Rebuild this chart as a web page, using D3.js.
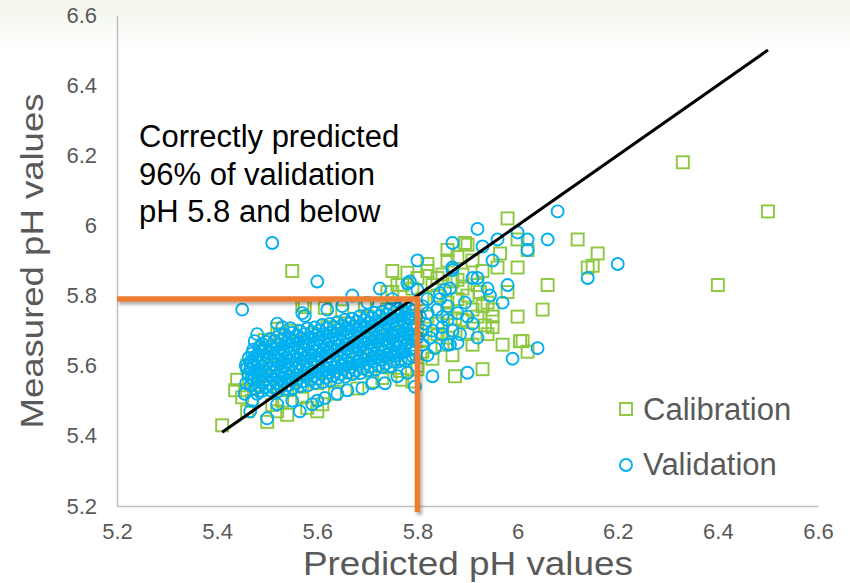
<!DOCTYPE html>
<html>
<head>
<meta http-equiv="Content-type" content="text/html; charset=utf-8"/>
<title>Measured vs predicted pH</title>
<script src="https://d3js.org/d3.v7.min.js"></script>
<style>
  body { margin: 0; background: #fff; }
  svg { display: block; font-family: "Liberation Sans", Arial, sans-serif; }
</style>
</head>
<body>
<svg width="850" height="583"></svg>
<script>
// ### Data ###
const xTicks = [5.2, 5.4, 5.6, 5.8, 6.0, 6.2, 6.4, 6.6];
const xTickLabels = ["5.2", "5.4", "5.6", "5.8", "6", "6.2", "6.4", "6.6"];
const yTicks = [5.2, 5.4, 5.6, 5.8, 6.0, 6.2, 6.4, 6.6];
const yTickLabels = ["5.2", "5.4", "5.6", "5.8", "6", "6.2", "6.4", "6.6"];

const oneToOne = [5.41, 6.5];          // 1:1 line start / end
const cutoffX = 5.8, cutoffY = 5.79;    // orange threshold lines
const cutoffBottom = 5.183;

const seriesNames = ["Calibration", "Validation"];
const noteLines = ["Correctly predicted", "96% of validation", "pH 5.8 and below"];

// calibration (green squares)
const calibration = [
  [6.33,6.18],[6.50,6.04],[6.40,5.83],[6.12,5.96],[6.16,5.92],[6.14,5.88],[6.15,5.885],[5.55,5.87],[5.41,5.43],
  [5.98,6.02],[6.06,5.83],[6.05,5.76],[6.00,5.74],[6.01,5.67],[6.02,5.64],[5.97,5.66],[5.95,5.71],[5.93,5.59],
  [5.875,5.57],[6.02,5.93],[6.00,5.96],
  [5.86,5.93],[5.90,5.945],[5.895,5.95],[5.965,5.92],[5.91,5.90],[5.82,5.89],[5.75,5.87],[5.78,5.865],[5.84,5.85],
  [5.88,5.845],[5.98,5.81],[5.96,5.88],[6.00,5.88],[5.925,5.81],[5.94,5.78],[5.86,5.78],[5.95,5.76],[5.91,5.76],
  [5.875,5.735],[5.86,5.68],[5.81,5.67],[5.84,5.69],[5.935,5.715],[5.77,5.56],[5.81,5.64],[5.745,5.595],[6.005,5.67],
  [5.83,5.83],[5.85,5.86],[5.87,5.84],[5.89,5.82],[5.90,5.80],[5.92,5.83],[5.88,5.79],[5.86,5.75],[5.84,5.72],
  [5.82,5.74],[5.89,5.73],[5.92,5.74],[5.93,5.77],[5.87,5.70],[5.90,5.69],[5.85,5.66],[5.83,5.62],[5.80,5.60],
  [5.87,5.63],[5.91,5.66],[5.94,5.69],[5.95,5.74],[5.82,5.87],[5.86,5.90],[5.88,5.91],[5.93,5.87],[5.80,5.85],
  [5.79,5.82],[5.76,5.83],[5.74,5.81],[5.81,5.79],[5.84,5.80],[5.89,5.86],
  [5.44,5.56],[5.436,5.53],[5.456,5.53],[5.48,5.545],[5.47,5.58],[5.49,5.62],[5.495,5.673],[5.525,5.69],[5.52,5.705],
  [5.55,5.70],[5.575,5.767],[5.57,5.773],[5.615,5.765],[5.65,5.755],[5.695,5.77],[5.75,5.81],[5.77,5.83],[5.51,5.488],
  [5.53,5.50],[5.58,5.48],[5.61,5.49],[5.57,5.51],[5.635,5.52],[5.68,5.535],[5.71,5.555],[5.73,5.565],[5.765,5.585],
  [5.80,5.59],[5.79,5.555],[5.50,5.44],[5.46,5.47],[5.47,5.50],[5.45,5.51],[5.54,5.46],[5.52,5.47],[5.60,5.47],
  [5.47,5.56],[5.49,5.57],[5.50,5.54],[5.52,5.55],[5.51,5.60],[5.53,5.58],[5.54,5.53],[5.55,5.56],[5.56,5.60],
  [5.57,5.54],[5.58,5.58],[5.60,5.55],[5.60,5.62],[5.62,5.58],[5.63,5.64],[5.64,5.56],[5.65,5.60],[5.66,5.66],
  [5.67,5.58],[5.68,5.62],[5.69,5.68],[5.70,5.60],[5.71,5.65],[5.72,5.70],[5.73,5.62],[5.74,5.67],[5.75,5.72],
  [5.76,5.63],[5.77,5.69],[5.78,5.74],[5.79,5.65],[5.80,5.71],[5.53,5.64],[5.56,5.67],[5.59,5.69],[5.62,5.71],
  [5.66,5.72],[5.70,5.74],[5.74,5.76],[5.50,5.63],[5.46,5.60]
];

// validation (blue circles): scattered points
const validation = [
  [5.51,5.95],[5.60,5.84],[5.45,5.76],[6.08,6.04],[6.20,5.89],[6.14,5.85],[6.06,5.96],[6.00,5.98],[6.02,5.96],
  [6.02,5.93],[6.04,5.65],[5.99,5.62],[5.90,5.58],[5.83,5.57],[5.795,5.54],[5.92,5.99],[5.87,5.95],[5.96,5.96],
  [5.93,5.94],[5.80,5.90],[5.95,5.90],[5.98,5.83],[5.97,5.78],[5.92,5.68],[5.885,5.69],[5.865,5.66],[5.91,5.72],
  [5.90,5.74],[5.895,5.78],[5.94,5.82],[5.945,5.80],[5.91,5.85],[5.92,5.85],[5.87,5.88],[5.785,5.84],[5.87,5.873],
  [5.88,5.665],[5.86,5.66],[5.735,5.55],[5.80,5.816],[5.855,5.816],[5.865,5.82],[5.845,5.807],[5.85,5.74],
  [5.85,5.71],[5.85,5.69],
  [5.81,5.77],[5.82,5.75],[5.815,5.72],[5.83,5.70],[5.825,5.68],[5.81,5.66],[5.84,5.76],[5.86,5.73],[5.835,5.65],
  [5.82,5.63],[5.87,5.70],[5.845,5.79],[5.86,5.77],[5.88,5.75],[5.805,5.74],[5.81,5.70],[5.80,5.68],[5.82,5.79],
  [5.48,5.69],[5.486,5.655],[5.466,5.61],[5.46,5.593],[5.466,5.47],[5.50,5.45],[5.546,5.707],[5.575,5.742],
  [5.57,5.75],[5.67,5.80],[5.725,5.82],[5.78,5.835],[5.565,5.47],[5.615,5.508],[5.60,5.50],[5.69,5.536],[5.64,5.52],
  [5.59,5.49],[5.475,5.67],[5.52,5.72],[5.53,5.71],[5.62,5.76],[5.65,5.77],[5.70,5.78],[5.75,5.79],[5.52,5.49],
  [5.55,5.50],[5.66,5.53],[5.71,5.55],[5.76,5.57],[5.78,5.58],[5.455,5.52],[5.47,5.50],[5.48,5.52]
];

// validation: the dense core of the cloud
const validationCore = [
  [5.458,5.55],[5.462,5.575],[5.457,5.60],[5.463,5.622],
  [5.476,5.535],[5.473,5.56],[5.477,5.582],[5.474,5.605],[5.478,5.628],[5.472,5.646],
  [5.489,5.528],[5.492,5.552],[5.488,5.574],[5.491,5.597],[5.493,5.62],[5.487,5.641],[5.49,5.662],
  [5.506,5.53],[5.503,5.549],[5.507,5.572],[5.504,5.59],[5.508,5.613],[5.502,5.636],[5.506,5.655],[5.505,5.676],
  [5.521,5.527],[5.518,5.551],[5.523,5.571],[5.519,5.594],[5.522,5.613],[5.517,5.637],[5.521,5.66],[5.52,5.681],
  [5.536,5.534],[5.533,5.556],[5.537,5.579],[5.534,5.601],[5.538,5.621],[5.532,5.646],[5.536,5.664],[5.535,5.689],
  [5.551,5.536],[5.548,5.559],[5.552,5.581],[5.549,5.604],[5.553,5.626],[5.547,5.649],[5.551,5.671],[5.55,5.694],
  [5.566,5.541],[5.563,5.564],[5.567,5.586],[5.564,5.606],[5.568,5.631],[5.562,5.651],[5.566,5.676],[5.565,5.699],
  [5.581,5.544],[5.578,5.571],[5.582,5.589],[5.579,5.613],[5.583,5.635],[5.577,5.661],[5.581,5.679],[5.58,5.706],
  [5.596,5.551],[5.593,5.571],[5.597,5.596],[5.594,5.617],[5.598,5.641],[5.592,5.661],[5.596,5.686],[5.595,5.709],
  [5.611,5.553],[5.608,5.576],[5.612,5.599],[5.609,5.623],[5.613,5.644],[5.607,5.668],[5.611,5.689],[5.61,5.716],
  [5.626,5.557],[5.623,5.581],[5.627,5.604],[5.624,5.628],[5.628,5.649],[5.622,5.673],[5.626,5.694],[5.625,5.719],
  [5.641,5.566],[5.638,5.584],[5.642,5.609],[5.639,5.631],[5.643,5.656],[5.637,5.677],[5.641,5.701],[5.64,5.724],
  [5.656,5.569],[5.653,5.591],[5.657,5.614],[5.654,5.639],[5.658,5.659],[5.652,5.683],[5.656,5.704],[5.655,5.731],
  [5.671,5.576],[5.668,5.596],[5.672,5.621],[5.669,5.641],[5.673,5.666],[5.667,5.687],[5.671,5.711],[5.67,5.734],
  [5.686,5.579],[5.683,5.603],[5.687,5.624],[5.684,5.649],[5.688,5.669],[5.682,5.693],[5.686,5.714],[5.685,5.741],
  [5.701,5.586],[5.698,5.606],[5.702,5.631],[5.699,5.651],[5.703,5.676],[5.697,5.697],[5.701,5.721],[5.70,5.744],
  [5.716,5.589],[5.713,5.613],[5.717,5.634],[5.714,5.659],[5.718,5.679],[5.712,5.704],[5.716,5.724],[5.715,5.751],
  [5.731,5.596],[5.728,5.617],[5.732,5.641],[5.729,5.662],[5.733,5.687],[5.727,5.707],[5.731,5.731],[5.73,5.754],
  [5.746,5.599],[5.743,5.623],[5.747,5.644],[5.744,5.669],[5.748,5.689],[5.742,5.714],[5.746,5.734],[5.745,5.761],
  [5.761,5.611],[5.758,5.629],[5.762,5.653],[5.759,5.674],[5.763,5.698],[5.757,5.719],[5.761,5.743],[5.76,5.764],
  [5.776,5.614],[5.773,5.638],[5.777,5.659],[5.774,5.681],[5.778,5.702],[5.772,5.726],[5.776,5.747],[5.775,5.771],
  [5.791,5.626],[5.788,5.646],[5.792,5.671],[5.789,5.689],[5.793,5.713],[5.787,5.734],[5.791,5.756],[5.79,5.777],
  [5.467,5.545],[5.469,5.565],[5.466,5.59],[5.468,5.612],[5.47,5.635],
  [5.484,5.54],[5.482,5.563],[5.485,5.586],[5.481,5.608],[5.483,5.63],[5.484,5.652],
  [5.497,5.538],[5.499,5.562],[5.496,5.582],[5.498,5.604],[5.5,5.626],[5.497,5.648],[5.499,5.668],
  [5.512,5.538],[5.514,5.56],[5.511,5.583],[5.513,5.603],[5.515,5.626],[5.512,5.648],[5.514,5.67],
  [5.527,5.539],[5.529,5.562],[5.526,5.584],[5.528,5.607],[5.53,5.628],[5.527,5.651],[5.529,5.673],
  [5.542,5.545],[5.544,5.568],[5.541,5.59],[5.543,5.613],[5.545,5.636],[5.542,5.656],[5.544,5.679],
  [5.557,5.55],[5.559,5.573],[5.556,5.594],[5.558,5.617],[5.56,5.638],[5.557,5.662],[5.559,5.686],
  [5.572,5.556],[5.574,5.578],[5.571,5.60],[5.573,5.622],[5.575,5.646],[5.572,5.668],[5.574,5.69],
  [5.587,5.56],[5.589,5.582],[5.586,5.605],[5.588,5.628],[5.59,5.65],[5.587,5.673],[5.589,5.696],
  [5.602,5.563],[5.604,5.587],[5.601,5.61],[5.603,5.632],[5.605,5.655],[5.602,5.678],[5.604,5.70],
  [5.617,5.566],[5.619,5.59],[5.616,5.614],[5.618,5.637],[5.62,5.66],[5.617,5.683],[5.619,5.706],
  [5.632,5.571],[5.634,5.595],[5.631,5.618],[5.633,5.641],[5.635,5.664],[5.632,5.687],[5.634,5.71],
  [5.647,5.576],[5.649,5.60],[5.646,5.622],[5.648,5.645],[5.65,5.668],[5.647,5.691],[5.649,5.714],
  [5.662,5.581],[5.664,5.605],[5.661,5.628],[5.663,5.65],[5.665,5.674],[5.662,5.696],[5.664,5.72],
  [5.677,5.586],[5.679,5.61],[5.676,5.633],[5.678,5.656],[5.68,5.678],[5.677,5.702],[5.679,5.726],
  [5.692,5.592],[5.694,5.616],[5.691,5.638],[5.693,5.661],[5.695,5.684],[5.692,5.707],[5.694,5.73],
  [5.707,5.597],[5.709,5.62],[5.706,5.643],[5.708,5.666],[5.71,5.689],[5.707,5.712],[5.709,5.736],
  [5.722,5.601],[5.724,5.625],[5.721,5.648],[5.723,5.671],[5.725,5.694],[5.722,5.718],[5.724,5.741],
  [5.737,5.606],[5.739,5.63],[5.736,5.653],[5.738,5.676],[5.74,5.699],[5.737,5.723],[5.739,5.746],
  [5.752,5.612],[5.754,5.635],[5.751,5.658],[5.753,5.682],[5.755,5.705],[5.752,5.728],[5.754,5.752],
  [5.767,5.617],[5.769,5.64],[5.766,5.664],[5.768,5.687],[5.77,5.71],[5.767,5.733],[5.769,5.757],
  [5.782,5.622],[5.784,5.645],[5.781,5.668],[5.783,5.692],[5.785,5.715],[5.782,5.738],[5.784,5.762]
];

// ### Drawing ###
var svg = d3.select("svg");
var green = "#8dc63f", blue = "#00b0f0", orange = "#ed7d31", grey = "#595959";

var x = d3.scaleLinear().domain([5.2, 6.6]).range([117, 818]);
var y = d3.scaleLinear().domain([5.2, 6.6]).range([506, 15]);

var defs = svg.append("defs");
var grad = defs.append("linearGradient").attr("id", "topband")
    .attr("x1", 0).attr("y1", 0).attr("x2", 0).attr("y2", 1);
grad.append("stop").attr("offset", "0%").attr("stop-color", "#f1f5ea");
grad.append("stop").attr("offset", "100%").attr("stop-color", "#ffffff");
defs.append("filter").attr("id", "shadow")
    .attr("x", "-20%").attr("y", "-20%").attr("width", "140%").attr("height", "140%")
  .append("feDropShadow")
    .attr("dx", 2).attr("dy", 3).attr("stdDeviation", 1.8)
    .attr("flood-color", "#000").attr("flood-opacity", 0.3);

svg.append("rect").attr("width", 850).attr("height", 48).attr("fill", "url(#topband)");

// axes
var xAxis = svg.append("g")
    .attr("transform", "translate(0," + y(5.2) + ")")
    .call(d3.axisBottom(x).tickValues(xTicks).tickFormat(function(d, i) { return xTickLabels[i]; })
      .tickSize(0).tickSizeOuter(0).tickPadding(17));
var yAxis = svg.append("g")
    .attr("transform", "translate(" + x(5.2) + ",0)")
    .call(d3.axisLeft(y).tickValues(yTicks).tickFormat(function(d, i) { return yTickLabels[i]; })
      .tickSize(0).tickSizeOuter(0).tickPadding(20));
[xAxis, yAxis].forEach(function(a) {
  a.select(".domain").attr("stroke", "#bfbfbf").attr("stroke-width", 1.5);
  a.selectAll("text").attr("fill", grey).attr("font-size", 22)
    .attr("font-family", "'Liberation Sans', Arial, sans-serif");
});

// points: calibration first, validation on top
svg.append("g").selectAll("rect").data(calibration).join("rect")
    .attr("x", function(d) { return x(d[0]) - 6; })
    .attr("y", function(d) { return y(d[1]) - 6; })
    .attr("width", 12).attr("height", 12)
    .attr("fill", "none").attr("stroke", green).attr("stroke-width", 1.9);

svg.append("g").selectAll("circle").data(validation.concat(validationCore)).join("circle")
    .attr("cx", function(d) { return x(d[0]); })
    .attr("cy", function(d) { return y(d[1]); })
    .attr("r", 6)
    .attr("fill", "none").attr("stroke", blue).attr("stroke-width", 1.9);

// 1:1 line
svg.append("line")
    .attr("x1", x(oneToOne[0])).attr("y1", y(oneToOne[0]))
    .attr("x2", x(oneToOne[1])).attr("y2", y(oneToOne[1]))
    .attr("stroke", "#000").attr("stroke-width", 3);

// threshold lines
svg.append("path")
    .datum([[5.2, cutoffY], [cutoffX, cutoffY], [cutoffX, cutoffBottom]])
    .attr("d", d3.line().x(function(d) { return x(d[0]); }).y(function(d) { return y(d[1]); }))
    .attr("fill", "none").attr("stroke", orange).attr("stroke-width", 5.5)
    .attr("stroke-linejoin", "miter").attr("filter", "url(#shadow)");

// annotation
svg.append("text").attr("x", 139).attr("y", 147)
    .attr("font-size", 31).attr("fill", "#000")
  .selectAll("tspan").data(noteLines).join("tspan")
    .attr("x", 139).attr("dy", function(d, i) { return i ? 37.5 : 0; })
    .text(function(d) { return d; });

// legend
var legend = svg.append("g");
legend.append("rect").attr("x", 620).attr("y", 403).attr("width", 12).attr("height", 12)
    .attr("fill", "none").attr("stroke", green).attr("stroke-width", 1.9);
legend.append("circle").attr("cx", 626).attr("cy", 465).attr("r", 6)
    .attr("fill", "none").attr("stroke", blue).attr("stroke-width", 1.9);
legend.selectAll("text").data(seriesNames).join("text")
    .attr("x", 643).attr("y", function(d, i) { return 420 + i * 55; })
    .attr("font-size", 31).attr("fill", grey)
    .text(function(d) { return d; });

// axis titles
svg.append("text").attr("x", 468).attr("y", 575)
    .attr("text-anchor", "middle").attr("font-size", 34).attr("fill", grey)
    .attr("textLength", 330).attr("lengthAdjust", "spacingAndGlyphs")
    .text("Predicted pH values");
svg.append("text")
    .attr("transform", "translate(43,261) rotate(-90)")
    .attr("text-anchor", "middle").attr("font-size", 32).attr("fill", grey)
    .attr("textLength", 335).attr("lengthAdjust", "spacingAndGlyphs")
    .text("Measured pH values");
</script>
</body>
</html>
